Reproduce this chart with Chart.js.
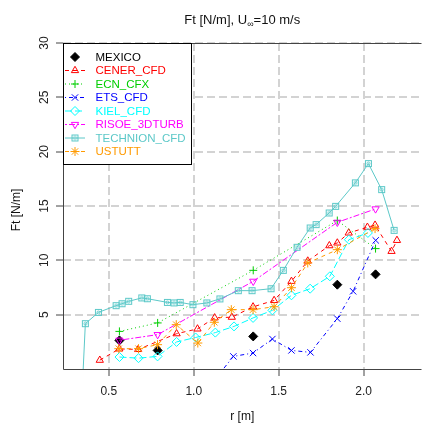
<!DOCTYPE html>
<html><head><meta charset="utf-8">
<script src="https://cdn.jsdelivr.net/npm/chart.js@4.4.1/dist/chart.umd.min.js"></script>
<style>html,body{margin:0;padding:0;background:#fff;overflow:hidden}</style>
</head><body>
<canvas id="c" width="426" height="431"></canvas>
<script>
// ---- data (r [m], Ft [N/m]) ----
const xTicks = [0.5, 1.0, 1.5, 2.0];
const yTicks = [5, 10, 15, 20, 25, 30];

const mexicoR  = [0.5625, 0.7875, 1.35, 1.845, 2.07];
const mexicoFt = [2.63, 1.71, 3.0, 7.76, 8.71];

const cenerR  = [0.447, 0.562, 0.673, 0.899, 1.022, 1.123, 1.224, 1.349, 1.473, 1.575, 1.671, 1.798, 1.845, 1.912, 2.022, 2.067, 2.164, 2.196];
const cenerFt = [0.81, 1.85, 1.8, 3.25, 3.69, 4.71, 4.77, 5.72, 6.31, 8.07, 9.94, 11.35, 11.6, 12.52, 13.05, 13.24, 10.83, 11.84];

const ecnR  = [0.5625, 0.7875, 1.35, 1.845, 2.07];
const ecnFt = [3.46, 4.24, 9.08, 13.66, 11.08];

const etsR  = [1.123, 1.233, 1.349, 1.463, 1.575, 1.687, 1.845, 1.938, 2.071];
const etsFt = [-1.0, 1.16, 1.47, 2.76, 1.71, 1.53, 4.63, 7.15, 11.84];

const kielR  = [0.563, 0.675, 0.787, 0.899, 1.011, 1.127, 1.237, 1.349, 1.463, 1.575, 1.685, 1.801, 1.913, 2.025];
const kielFt = [1.1, 1.0, 1.16, 2.49, 2.9, 3.35, 3.92, 4.7, 5.4, 6.78, 7.39, 8.53, 11.9, 12.52];

const risoeR  = [0.5625, 0.7875, 1.35, 1.845, 2.07];
const risoeFt = [2.65, 3.16, 8.07, 13.5, 14.73];

const technionR  = [0.34, 0.362, 0.439, 0.543, 0.578, 0.617, 0.694, 0.727, 0.845, 0.884, 0.92, 0.995, 1.077, 1.154, 1.262, 1.343, 1.455, 1.527, 1.608, 1.685, 1.72, 1.797, 1.835, 1.951, 2.028, 2.106, 2.179];
const technionFt = [-3.1, 4.17, 5.21, 5.83, 6.01, 6.23, 6.54, 6.47, 6.13, 6.08, 6.13, 5.92, 6.08, 6.45, 7.21, 7.21, 7.39, 9.08, 11.2, 12.98, 13.29, 14.36, 14.97, 17.13, 18.9, 16.51, 12.76];

const ustuttR  = [0.559, 0.675, 0.787, 0.897, 1.024, 1.121, 1.221, 1.349, 1.473, 1.575, 1.671, 1.845, 2.067];
const ustuttFt = [1.87, 1.87, 2.24, 4.08, 2.39, 4.3, 5.46, 5.46, 5.73, 7.48, 9.76, 10.98, 12.92];

const FONT = "'Liberation Sans', Arial, Helvetica, sans-serif";
Chart.defaults.font.family = FONT;

const pts = (r, v) => r.map((x, i) => ({x: x, y: v[i]}));

function technionMarker(color) {
  const c = document.createElement('canvas');
  c.width = 9; c.height = 9;
  const g = c.getContext('2d');
  g.strokeStyle = color; g.lineWidth = 1;
  g.strokeRect(1.5, 1.5, 6, 6);
  g.beginPath(); g.arc(4.5, 4.5, 1.5, 0, Math.PI * 2); g.stroke();
  return c;
}

const TEAL = '#5cc8c8';
const ORANGE = '#ff9a00';
const CLEAR = 'rgba(0,0,0,0)';

const datasets = [
  {label: 'MEXICO', data: pts(mexicoR, mexicoFt), showLine: false, borderColor: '#000',
   pointStyle: 'rectRot', pointRadius: 4.5, pointBackgroundColor: '#000', pointBorderColor: '#000', pointBorderWidth: 1, textColor: '#000'},
  {label: 'CENER_CFD', data: pts(cenerR, cenerFt), borderColor: '#ff0000', borderDash: [4, 4],
   pointStyle: 'triangle', pointRadius: 4.2, pointBackgroundColor: CLEAR, pointBorderColor: '#ff0000', pointBorderWidth: 1, textColor: '#ff0000'},
  {label: 'ECN_CFX', data: pts(ecnR, ecnFt), borderColor: '#00cd00', borderDash: [1, 3],
   pointStyle: 'cross', pointRadius: 4, pointBackgroundColor: CLEAR, pointBorderColor: '#00cd00', pointBorderWidth: 1, textColor: '#00cd00'},
  {label: 'ETS_CFD', data: pts(etsR, etsFt), borderColor: '#0000ff', borderDash: [1, 3, 4, 3],
   pointStyle: 'crossRot', pointRadius: 4.5, pointBackgroundColor: CLEAR, pointBorderColor: '#0000ff', pointBorderWidth: 1, textColor: '#0000ff'},
  {label: 'KIEL_CFD', data: pts(kielR, kielFt), borderColor: '#00ffff', borderDash: [7, 3],
   pointStyle: 'rectRot', pointRadius: 4.5, pointBackgroundColor: CLEAR, pointBorderColor: '#00ffff', pointBorderWidth: 1, textColor: '#00ffff'},
  {label: 'RISOE_3DTURB', data: pts(risoeR, risoeFt), borderColor: '#ff00ff', borderDash: [2, 2, 6, 2],
   pointStyle: 'triangle', pointRotation: 180, pointRadius: 4.2, pointBackgroundColor: CLEAR, pointBorderColor: '#ff00ff', pointBorderWidth: 1, textColor: '#ff00ff'},
  {label: 'TECHNION_CFD', data: pts(technionR, technionFt), borderColor: TEAL, borderDash: [],
   pointStyle: technionMarker(TEAL), pointRadius: 4.5, pointBackgroundColor: CLEAR, pointBorderColor: TEAL, pointBorderWidth: 1, textColor: TEAL},
  {label: 'USTUTT', data: pts(ustuttR, ustuttFt), borderColor: ORANGE, borderDash: [4, 4],
   pointStyle: 'star', pointRadius: 4.5, pointBackgroundColor: CLEAR, pointBorderColor: ORANGE, pointBorderWidth: 1, textColor: ORANGE}
];
datasets.forEach((d, i) => {
  d.borderWidth = 1; d.tension = 0; d.fill = false; d.order = datasets.length - i;
  d.pointHoverRadius = d.pointRadius;
});

const decorPlugin = {
  id: 'decor',
  afterDraw(chart) {
    const ctx = chart.ctx, ca = chart.chartArea;
    ctx.save();
    // box (left, top, bottom)
    ctx.strokeStyle = '#444'; ctx.lineWidth = 1; ctx.setLineDash([]);
    ctx.beginPath();
    ctx.moveTo(ca.right + 1, ca.top + 0.5); ctx.lineTo(ca.left + 0.5, ca.top + 0.5);
    ctx.lineTo(ca.left + 0.5, ca.bottom + 0.5); ctx.lineTo(ca.right + 1, ca.bottom + 0.5);
    ctx.stroke();

    // title with subscript
    ctx.fillStyle = '#111';
    const p1 = 'Ft [N/m], U', sub = '\u221e', p2 = '=10 m/s';
    ctx.font = '13px ' + FONT;
    const w1 = ctx.measureText(p1).width, w3 = ctx.measureText(p2).width;
    ctx.font = '9px ' + FONT;
    const w2 = ctx.measureText(sub).width;
    let x = (ca.left + ca.right + 1) / 2 - (w1 + w2 + w3) / 2;
    ctx.textBaseline = 'alphabetic'; ctx.textAlign = 'left';
    ctx.font = '13px ' + FONT; ctx.fillText(p1, x, 23.5); x += w1;
    ctx.font = '9px ' + FONT; ctx.fillText(sub, x, 26.5); x += w2;
    ctx.font = '13px ' + FONT; ctx.fillText(p2, x, 23.5);

    // axis titles
    ctx.font = '12px ' + FONT; ctx.textAlign = 'center'; ctx.textBaseline = 'middle';
    ctx.fillText('r [m]', (ca.left + ca.right + 1) / 2, 417);
    ctx.save(); ctx.translate(17, (ca.top + ca.bottom) / 2 + 4); ctx.rotate(-Math.PI / 2);
    ctx.fillText('Ft [N/m]', 0, 0); ctx.restore();

    // legend
    const bx = ca.left, by = ca.top, bw = 128, bh = 121;
    ctx.fillStyle = '#fff'; ctx.fillRect(bx, by, bw, bh);
    ctx.strokeStyle = '#000'; ctx.strokeRect(bx + 0.5, by + 0.5, bw, bh);
    chart.data.datasets.forEach((ds, i) => {
      const y = by + 14 + i * 13.5;
      ctx.lineWidth = 1;
      if (ds.showLine !== false) {
        ctx.strokeStyle = ds.borderColor; ctx.setLineDash(ds.borderDash || []);
        ctx.beginPath(); ctx.moveTo(bx + 2, y); ctx.lineTo(bx + 22, y); ctx.stroke();
        ctx.setLineDash([]);
      }
      ctx.fillStyle = ds.pointBackgroundColor; ctx.strokeStyle = ds.pointBorderColor;
      Chart.helpers.drawPoint(ctx, {pointStyle: ds.pointStyle, rotation: ds.pointRotation || 0,
        radius: ds.pointRadius, borderWidth: ds.pointBorderWidth}, bx + 12, y);
      ctx.fillStyle = ds.textColor; ctx.font = '11.5px ' + FONT;
      ctx.textAlign = 'left'; ctx.textBaseline = 'middle';
      ctx.fillText(ds.label, bx + 32.5, y + 0.5);
    });
    ctx.restore();
  }
};

new Chart(document.getElementById('c'), {
  type: 'line',
  data: {datasets: datasets},
  plugins: [decorPlugin],
  options: {
    responsive: false, animation: false, events: [],
    layout: {padding: {top: 43, left: 0, right: 0, bottom: 0}},
    plugins: {legend: {display: false}, title: {display: false}, tooltip: {enabled: false}},
    scales: {
      x: {
        type: 'linear', min: 0.2305, max: 2.3345,
        afterBuildTicks: s => { s.ticks = xTicks.map(v => ({value: v})); },
        afterFit: s => { s.height = 62; },
        grid: {color: '#d3d3d3', lineWidth: 2, drawTicks: true, tickLength: 7, tickColor: '#444', tickWidth: 1, tickBorderDash: []},
        border: {display: false, dash: [8, 4]},
        ticks: {color: '#222', font: {size: 12}, padding: 8, maxRotation: 0, autoSkip: false,
          callback: v => Number(v).toFixed(1)}
      },
      y: {
        type: 'linear', min: 0, max: 30,
        afterBuildTicks: s => { s.ticks = yTicks.map(v => ({value: v})); },
        afterFit: s => { s.width = 63; },
        grid: {color: '#d3d3d3', lineWidth: 2, drawTicks: true, tickLength: 7, tickColor: '#444', tickWidth: 1, tickBorderDash: []},
        border: {display: false, dash: [8, 4]},
        ticks: {color: '#222', font: {size: 12}, padding: 5, minRotation: 90, maxRotation: 90, crossAlign: 'center', autoSkip: false,
          callback: v => String(v)}
      }
    }
  }
});
</script>
</body></html>
